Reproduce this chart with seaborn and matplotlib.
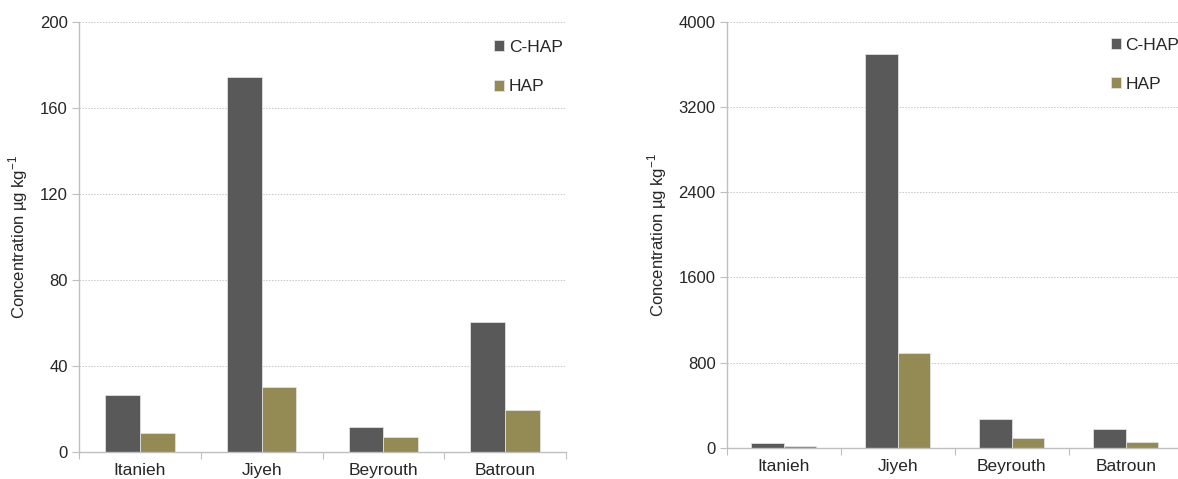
import numpy as np
import pandas as pd
import seaborn as sns
import matplotlib.pyplot as plt

sites = ['Itanieh', 'Jiyeh', 'Beyrouth', 'Batroun']
series = ['C-HAP', 'HAP']

# left panel (µg/kg)
left_chap = [26.4, 174.3, 11.3, 60.5]
left_hap = [8.8, 30.0, 6.8, 19.3]
left_ticks = [0, 40, 80, 120, 160, 200]

# right panel (µg/kg)
right_chap = [40, 3700, 266, 172]
right_hap = [19, 887, 94, 53]
right_ticks = [0, 800, 1600, 2400, 3200, 4000]

colors = ['#595959', '#948a54']

sns.set_theme(style='white')
plt.rcParams['font.family'] = ['Liberation Sans', 'DejaVu Sans']


def long_table(chap, hap):
    return pd.DataFrame({
        'site': sites * 2,
        'type': [series[0]] * len(sites) + [series[1]] * len(sites),
        'value': list(chap) + list(hap),
    })


def draw_panel(ax, chap, hap, ticks, leg_x, leg_y):
    df = long_table(chap, hap)
    sns.barplot(data=df, x='site', y='value', hue='type', order=sites,
                hue_order=series, palette=colors, saturation=1, width=0.57,
                gap=0, edgecolor='#e0e0e0', linewidth=0.6, ax=ax)
    ax.set_ylim(ticks[0], ticks[-1])
    ax.set_xlim(-0.5, len(sites) - 0.5)
    ax.set_yticks(ticks)
    ax.set_yticklabels([str(t) for t in ticks], fontsize=12, color='#262626')
    ax.set_xticks(range(len(sites)))
    ax.set_xticklabels(sites, fontsize=12.5, color='#262626')
    ax.set_xticks(np.arange(-0.5, len(sites)), minor=True)
    ax.tick_params(axis='x', which='major', length=0, pad=8)
    ax.tick_params(axis='x', which='minor', length=5, width=0.8,
                   color='#bfbfbf', direction='out', bottom=True)
    ax.tick_params(axis='y', length=5, width=0.8, color='#bfbfbf',
                   direction='out', left=True, pad=3)
    ax.grid(axis='y', linestyle=(0, (1.5, 1.5)), color='#c8c8c8', linewidth=0.7)
    ax.set_axisbelow(True)
    for side in ['top', 'right']:
        ax.spines[side].set_visible(False)
    for side in ['left', 'bottom']:
        ax.spines[side].set_color('#bfbfbf')
        ax.spines[side].set_linewidth(1.0)
    ax.set_xlabel('')
    ax.set_ylabel(r'Concentration µg kg$^{\mathregular{-1}}$', fontsize=12,
                  color='#262626', labelpad=7)
    handles, labels = ax.get_legend_handles_labels()
    ax.legend(handles, labels, loc='upper left', bbox_to_anchor=(leg_x, leg_y),
              frameon=False, fontsize=12.5, handlelength=0.6, handleheight=0.6,
              handletextpad=0.25, labelspacing=1.4, borderpad=0,
              borderaxespad=0, labelcolor='#262626')


fig = plt.figure(figsize=(11.78, 4.79), dpi=100)
ax1 = fig.add_axes([0.0671, 0.057, 0.4134, 0.897])
ax2 = fig.add_axes([0.617, 0.0653, 0.387, 0.8887])

draw_panel(ax1, left_chap, left_hap, left_ticks, 0.852, 0.958)
draw_panel(ax2, right_chap, right_hap, right_ticks, 0.842, 0.963)

fig.savefig('out.png', dpi=100)
